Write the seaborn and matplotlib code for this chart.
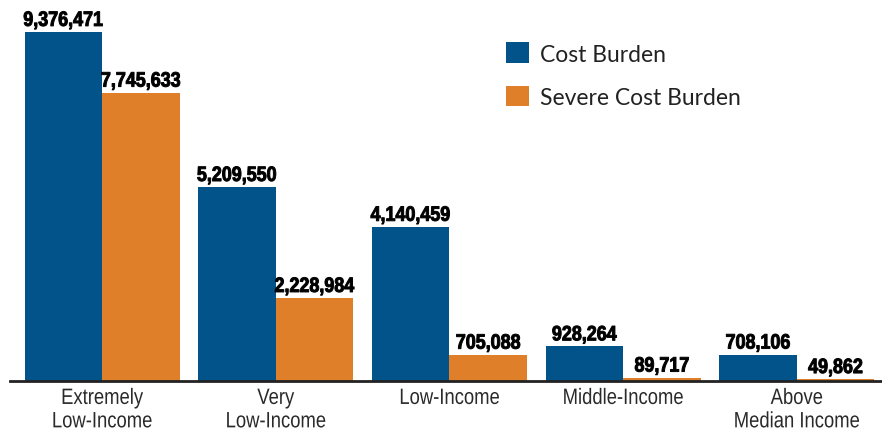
import pandas as pd
import seaborn as sns
import matplotlib.pyplot as plt
from matplotlib import patheffects
from matplotlib.transforms import Affine2D

# Daten
categories = ["Extremely\nLow-Income", "Very\nLow-Income", "Low-Income",
              "Middle-Income", "Above\nMedian Income"]
cost_burden = [9376471, 5209550, 4140459, 928264, 708106]
severe_cost_burden = [7745633, 2228984, 705088, 89717, 49862]
series = ["Cost Burden", "Severe Cost Burden"]
colors = ["#02538A", "#E07F29"]

df = pd.DataFrame({
    "category": categories * 2,
    "households": cost_burden + severe_cost_burden,
    "series": [series[0]] * len(categories) + [series[1]] * len(categories),
})


class Condense(patheffects.AbstractPathEffect):
    """Schrift horizontal stauchen (keine Narrow-Schrift installiert)."""

    def __init__(self, sx, stroke=0.0):
        super().__init__()
        self.sx = sx
        self.stroke = stroke

    def draw_path(self, renderer, gc, tpath, affine, rgbFace=None):
        ext = tpath.get_extents()
        cx = (ext.x0 + ext.x1) / 2
        t = Affine2D().translate(-cx, 0).scale(self.sx, 1).translate(cx, 0) + affine
        gc0 = renderer.new_gc()
        gc0.copy_properties(gc)
        if self.stroke:
            gc0.set_linewidth(self.stroke)
            gc0.set_foreground(rgbFace)
            gc0.set_joinstyle("round")
        renderer.draw_path(gc0, tpath, t, rgbFace)
        gc0.restore()


sns.set_style("white")
plt.rcParams["font.family"] = ["Liberation Sans Narrow", "Liberation Sans", "DejaVu Sans"]

fig = plt.figure(figsize=(8.82, 4.35), dpi=100)
ax = fig.add_axes([10 / 882, 53 / 435, 872 / 882, 382 / 435])

sns.barplot(data=df, x="category", y="households", hue="series",
            palette=colors, width=0.893, gap=0, saturation=1,
            linewidth=0, ax=ax)

ax.set_xlim(-0.53, 4.49)
ax.set_ylim(0, 10.263e6)

# Werte über den Balken
for cont in ax.containers:
    labels = ax.bar_label(cont, fmt="{:,.0f}", padding=1.5, fontsize=15,
                          fontweight="bold", color="black")
    for t in labels:
        t.set_path_effects([Condense(0.86, stroke=0.7)])

for s in ["top", "left", "right"]:
    ax.spines[s].set_visible(False)
ax.spines["bottom"].set_color("#222222")
ax.spines["bottom"].set_linewidth(2)
ax.set_yticks([])
ax.set_xlabel("")
ax.set_ylabel("")
ax.tick_params(axis="x", length=0, pad=5, labelsize=16, labelcolor="#2a2a2a")
for t in ax.get_xticklabels():
    t.set_path_effects([Condense(0.83)])
    t.set_linespacing(1.15)

# Legende
handles, labels = ax.get_legend_handles_labels()
ax.legend(handles, labels, loc="upper left",
          bbox_to_anchor=(495 / 882, 1 - 32 / 435), bbox_transform=fig.transFigure,
          frameon=False, borderpad=0, handlelength=1.0, handleheight=1.0,
          handletextpad=0.45, labelspacing=0.92,
          prop={"family": ["Lato", "DejaVu Sans"], "size": 16.5}, labelcolor="#222222")

fig.savefig("out.png", dpi=100)
